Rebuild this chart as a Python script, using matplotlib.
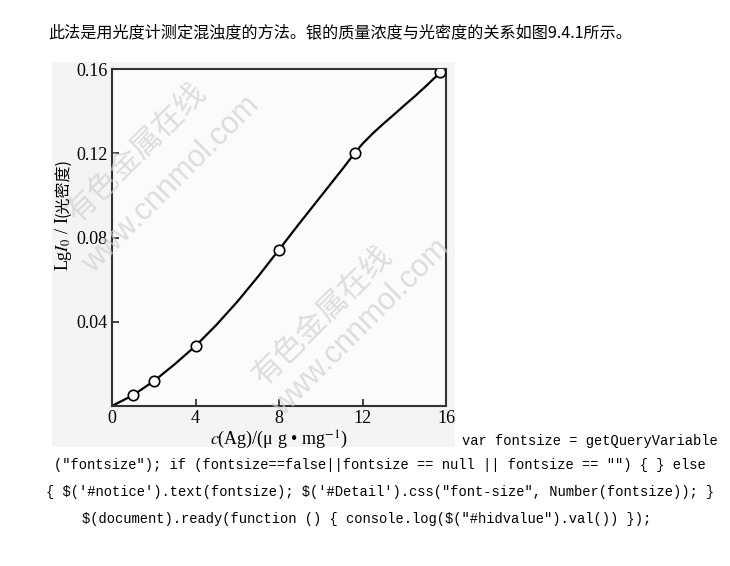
import matplotlib
matplotlib.use('Agg')
import matplotlib.pyplot as plt
from matplotlib.patches import Rectangle

plt.rcParams['mathtext.fontset'] = 'stix'

# data
conc = [1.02, 2.03, 4.0, 8.0, 11.62, 15.73]            # c(Ag), ug/mg
density = [0.0052, 0.012, 0.0285, 0.0742, 0.120, 0.1584]  # LgI0/I

# smooth calibration curve
curve_x = [0, 1.02, 2.03, 3, 4, 5, 6, 7, 8, 9, 10, 11, 11.62,
           12, 12.5, 13, 13.5, 14, 14.5, 15, 15.73]
curve_y = [0, 0.0052, 0.012, 0.0198, 0.0285, 0.0385, 0.0495, 0.0615, 0.0742,
           0.087, 0.0995, 0.112, 0.120,
           0.1245, 0.1295, 0.1340, 0.1383, 0.1427, 0.1470, 0.1515, 0.1584]

x_ticks = [0, 4, 8, 12, 16]
y_ticks = [0.04, 0.08, 0.12, 0.16]
y_tick_labels = ['0.04', '0.08', '0.12', '0.16']

top_line = '此法是用光度计测定混浊度的方法。银的质量浓度与光密度的关系如图9.4.1所示。'
code_lines = [
    'var fontsize = getQueryVariable',
    '("fontsize"); if (fontsize==false||fontsize == null || fontsize == "") { } else',
    '{ $(\'#notice\').text(fontsize); $(\'#Detail\').css("font-size", Number(fontsize)); }',
    '$(document).ready(function () { console.log($("#hidvalue").val()) });',
]
wm_cn = '有色金属在线'
wm_url = 'www.cnnmol.com'

W, H = 730, 566
fig = plt.figure(figsize=(W / 100, H / 100), dpi=100)


def fx(px):
    return px / W


def fy(py):
    return 1 - py / H


# grey backdrop of the pasted chart image
fig.patches.append(Rectangle((fx(52), fy(447)), fx(455) - fx(52), fy(62) - fy(447),
                             transform=fig.transFigure, facecolor='#f4f4f4',
                             edgecolor='none', zorder=-1))

ax = fig.add_axes([fx(112), fy(406), fx(446) - fx(112), fy(69) - fy(406)])
ax.set_facecolor('#fbfbfb')
ax.plot(curve_x, curve_y, color='black', linewidth=1.6, solid_joinstyle='round',
        solid_capstyle='round', zorder=2)
ax.plot(conc, density, linestyle='none', marker='o', markersize=7.5,
        markerfacecolor='white', markeredgecolor='black', markeredgewidth=1.2, zorder=3)

ax.set_xlim(0, 16)
ax.set_ylim(0, 0.16)
ax.set_xticks(x_ticks)
ax.set_yticks(y_ticks)
ax.set_yticklabels(y_tick_labels)
ax.tick_params(direction='in', length=5, width=1.2, colors='#222222', pad=3)
for lab in ax.get_xticklabels() + ax.get_yticklabels():
    lab.set_fontfamily('Liberation Serif')
    lab.set_fontsize(13)
    lab.set_color('black')
for s in ax.spines.values():
    s.set_linewidth(1.5)
    s.set_color('#333333')

ax.set_xlabel(r'$c$(Ag)/(μ g • mg$^{-1}$)', family='Liberation Serif', fontsize=13, labelpad=1)

# y label in two pieces so the Chinese part gets a CJK font
ylab1 = fig.text(fx(63), fy(271), r'Lg$I_0$ / I', rotation=90, ha='center', va='bottom',
                 family='Liberation Serif', fontsize=13)
ax.annotate('(光密度)', xy=(0.5, 1.0), xycoords=ylab1, rotation=90, ha='center',
            va='bottom', family=['Noto Sans CJK SC', 'Liberation Serif'], fontsize=11.5,
            annotation_clip=False)

# watermarks
for cx, cy in [(137, 153), (323, 316)]:
    fig.text(fx(cx), fy(cy), wm_cn, rotation=45, rotation_mode='anchor', ha='center',
             va='center', family='Noto Sans CJK SC', fontsize=22, color='#d0d0d0', alpha=0.7)
for cx, cy in [(171, 185), (361, 328)]:
    fig.text(fx(cx), fy(cy), wm_url, rotation=45, rotation_mode='anchor', ha='center',
             va='center', family='Liberation Sans', fontsize=22, color='#d0d0d0', alpha=0.7)

# page text around the picture
fig.text(fx(48), fy(33), top_line, ha='left', va='center',
         family=['Noto Sans CJK SC', 'DejaVu Sans'], fontsize=11.6, color='black')
code_pos = [(462, 441, 'left'), (380, 465, 'center'), (380, 492, 'center'), (367, 519, 'center')]
for line, (px, py, ha) in zip(code_lines, code_pos):
    fig.text(fx(px), fy(py), line, ha=ha, va='center', family='Liberation Mono',
             fontsize=9.9, color='black', parse_math=False)

fig.savefig('out.png', dpi=100, facecolor='white')
